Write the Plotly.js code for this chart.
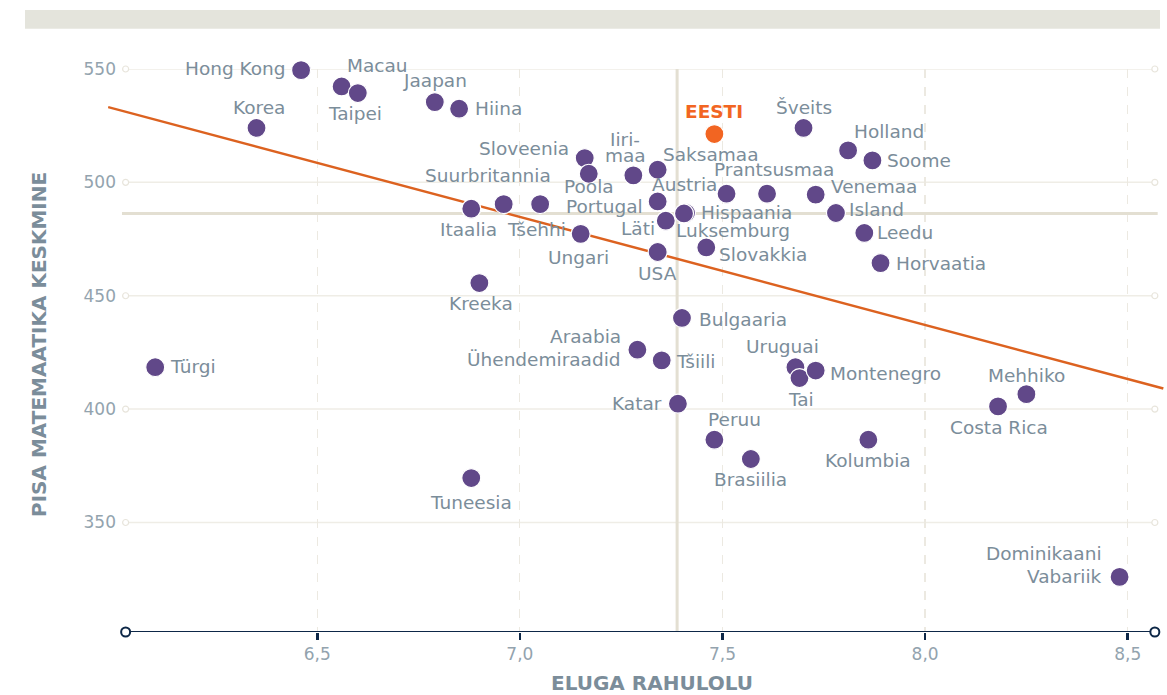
<!DOCTYPE html>
<html><head><meta charset="utf-8">
<script src="https://cdn.plot.ly/plotly-3.0.1.min.js"></script>
<style>html,body{margin:0;padding:0;background:#fff}#chart{width:1167px;height:695px}</style>
</head><body><div id="chart"></div>
<script>
// ---- data (PISA 2015 math mean vs. life satisfaction) ----
const countries = ["Hong Kong","Macau","Taipei","Korea","Jaapan","Hiina","EESTI","Šveits","Holland","Soome",
  "Sloveenia","Poola","Iiri-<br>maa","Saksamaa","Suurbritannia","Itaalia","Tšehhi","Portugal","Austria","Prantsusmaa",
  "Venemaa","Island","Leedu","Horvaatia","Läti","Hispaania","Luksemburg","Ungari","USA","Slovakkia",
  "Kreeka","Bulgaaria","Araabia<br>Ühendemiraadid","Tšiili","Katar","Peruu","Brasiilia","Tuneesia","Uruguai","Tai",
  "Montenegro","Mehhiko","Costa Rica","Kolumbia","Türgi","Dominikaani<br>Vabariik"];
const lifeSatisfaction = [6.46,6.56,6.60,6.35,6.79,6.85,7.48,7.70,7.81,7.87,
  7.16,7.17,7.28,7.34,6.96,6.88,7.05,7.34,7.51,7.61,
  7.73,7.78,7.85,7.89,7.36,7.41,7.405,7.15,7.34,7.46,
  6.90,7.40,7.29,7.35,7.39,7.48,7.57,6.88,7.68,7.69,
  7.73,8.25,8.18,7.86,6.10,8.48];
const pisaMath = [549.5,542.3,539.4,524.0,535.4,532.5,521.3,524.0,514.1,509.7,
  510.7,503.8,503.1,505.6,490.4,488.4,490.4,491.6,495.0,495.0,
  494.6,486.5,477.7,464.4,483.1,486.5,486.3,477.3,469.3,471.3,
  455.6,440.2,426.2,421.5,402.4,386.5,378.0,369.6,418.5,413.7,
  417.0,406.6,401.2,386.5,418.5,326.0];
const highlightCountry = "EESTI";
const xTicks = [6.5, 7.0, 7.5, 8.0, 8.5];
const yTicks = [350, 400, 450, 500, 550];
const meanSatisfaction = 7.388;
const meanMath = 486.3;
const trendX = [5.984, 8.588];
const trendY = [533.2, 409.1];

// ---- layout / style settings ----
// label placement per country: [anchor side, x offset px, y offset px (down), line gap px]
const labelStyles = [
  ["r",-15,-2],["l",5,-21],["c",-3,20],["c",2,-20],["c",0,-22],["l",16,0],["c",0,-23],["c",0,-20],["l",6,-19],["l",15,0],
  ["r",-16,-10],["c",0,13],["c",-8,-35.5,16],["l",5,-15],["c",-16,-29],["c",-3,21],["c",-4,25.5],["r",-15,5],["r",-10,-9],["c",7,-24],
  ["l",15.7,-8],["l",13,-3],["l",13,0],["l",15,0],["r",-11,8],["l",15,-0.5],["l",-8,17.5],["c",-2,24],["c",0,22],["l",13,7],
  ["c",2,20],["l",16.6,2],["r",-16.6,-13.3,23],["l",14,1],["r",-15.6,0],["c",20,-20],["c",0,20],["c",0,24],["c",-13,-20.6],["c",2,21],
  ["l",14.4,2.7],["c",0,-19],["c",1,21],["c",0,21],["l",14.3,-1],["r",-18,-23,23]];
const xRange = [5.9835, 8.5896];
const yRange = [301.7, 550];
const axisExtent = [6.027, 8.567];
const meanLineExtent = [6.018, 8.574];
const M = {l:108, r:3, t:69, b:63};
const W = 1167, H = 695;
const FONT = "DejaVu Sans";
const purple = "#614889", orange = "#f26522", navy = "#0d2747";
const labelColor = "#7b8d9a", gridColor = "#efede6", tickColor = "#93a3ae";

const plotW = W - M.l - M.r, plotH = H - M.t - M.b;
const pxToPaperX = px => (px - M.l) / plotW;
const pxToPaperY = py => (H - M.b - py) / plotH;

const idxOthers = countries.map((c,i)=>i).filter(i => countries[i] !== highlightCountry);
const idxHi = countries.map((c,i)=>i).filter(i => countries[i] === highlightCountry);
const pick = (arr, idx) => idx.map(i => arr[i]);

const traces = [];
traces.push({ // gridline end circles
  x: yTicks.flatMap(() => axisExtent), y: yTicks.flatMap(t => [t, t]),
  mode: "markers", type: "scatter", cliponaxis: false, hoverinfo: "skip", showlegend: false,
  marker: {symbol: "circle", size: 6, color: "#ffffff", line: {color: "#e8e5dc", width: 1.2}}
});
traces.push({ // trend line
  x: trendX, y: trendY, mode: "lines", type: "scatter", hoverinfo: "skip", showlegend: false,
  line: {color: "#dc6220", width: 2.5}
});
traces.push({ // countries
  x: pick(lifeSatisfaction, idxOthers), y: pick(pisaMath, idxOthers),
  mode: "markers", type: "scatter", cliponaxis: false, hoverinfo: "skip", showlegend: false,
  marker: {size: 19, color: purple, line: {color: "#ffffff", width: 1.2}}
});
traces.push({ // highlighted country
  x: pick(lifeSatisfaction, idxHi), y: pick(pisaMath, idxHi),
  mode: "markers", type: "scatter", cliponaxis: false, hoverinfo: "skip", showlegend: false,
  marker: {size: 19, color: orange, line: {color: "#ffffff", width: 1.2}}
});
traces.push({ // x-axis end circles
  x: axisExtent, y: [yRange[0], yRange[0]],
  mode: "markers", type: "scatter", cliponaxis: false, hoverinfo: "skip", showlegend: false,
  marker: {symbol: "circle", size: 9, color: "#ffffff", line: {color: navy, width: 2}}
});

const shapes = [];
yTicks.forEach(t => shapes.push({type: "line", xref: "x", yref: "y", layer: "below",
  x0: axisExtent[0], x1: axisExtent[1], y0: t, y1: t, line: {color: gridColor, width: 1.5}}));
shapes.push({type: "line", xref: "x", yref: "y", layer: "between",
  x0: meanSatisfaction, x1: meanSatisfaction, y0: yRange[0], y1: yRange[1], line: {color: "#e3dfd2", width: 3}});
shapes.push({type: "line", xref: "x", yref: "y", layer: "between",
  x0: meanLineExtent[0], x1: meanLineExtent[1], y0: meanMath, y1: meanMath, line: {color: "#e3dfd2", width: 3}});
shapes.push({type: "line", xref: "x", yref: "y", layer: "between",
  x0: axisExtent[0], x1: axisExtent[1], y0: yRange[0], y1: yRange[0], line: {color: navy, width: 2}});
shapes.push({type: "rect", xref: "paper", yref: "paper", layer: "above",
  x0: pxToPaperX(25), x1: pxToPaperX(1160), y0: pxToPaperY(28.7), y1: pxToPaperY(10),
  fillcolor: "#e4e4dc", line: {width: 0}});

const anchorMap = {l: "left", c: "center", r: "right"};
const annotations = [];
countries.forEach((name, i) => {
  const [side, dx, dy, gap] = labelStyles[i];
  const hi = name === highlightCountry;
  name.split("<br>").forEach((line, k) => {
    annotations.push({
      text: hi ? "<b>" + line + "</b>" : line,
      xref: "x", yref: "y", x: lifeSatisfaction[i], y: pisaMath[i],
      xanchor: anchorMap[side], yanchor: "middle", xshift: dx, yshift: -(dy + k * (gap || 23)),
      showarrow: false, borderpad: 0, borderwidth: 0,
      font: {family: FONT, size: 18.5, color: hi ? orange : labelColor}
    });
  });
});
annotations.push(
  {text: "ELUGA RAHULOLU", xref: "paper", yref: "paper", x: pxToPaperX(652), y: pxToPaperY(683),
   xanchor: "center", yanchor: "middle", showarrow: false,
   font: {family: FONT, size: 20, color: "#7b8d9a", weight: 700}},
  {text: "PISA MATEMAATIKA KESKMINE", xref: "paper", yref: "paper", x: pxToPaperX(39), y: pxToPaperY(345),
   xanchor: "center", yanchor: "middle", showarrow: false, textangle: -90,
   font: {family: FONT, size: 20, color: "#7b8d9a", weight: 700}}
);

const layout = {
  width: W, height: H, margin: M, paper_bgcolor: "#ffffff", plot_bgcolor: "#ffffff",
  separators: ", ", showlegend: false, hovermode: false,
  font: {family: FONT, color: labelColor},
  xaxis: {
    range: xRange, tickvals: xTicks, tickformat: ".1f", showline: false, zeroline: false,
    showgrid: true, gridcolor: "#ece9e1", griddash: "dash", gridwidth: 1.2,
    ticks: "outside", ticklen: 7, tickwidth: 2.5, tickcolor: navy,
    tickfont: {family: FONT, size: 17, color: tickColor}
  },
  yaxis: {
    range: yRange, tickvals: yTicks, showline: false, zeroline: false, showgrid: false,
    ticks: "", ticklabelstandoff: -9,
    tickfont: {family: FONT, size: 17, color: tickColor}
  },
  shapes: shapes,
  annotations: annotations
};

Plotly.newPlot("chart", traces, layout, {displayModeBar: false, staticPlot: true});
</script>
</body></html>
